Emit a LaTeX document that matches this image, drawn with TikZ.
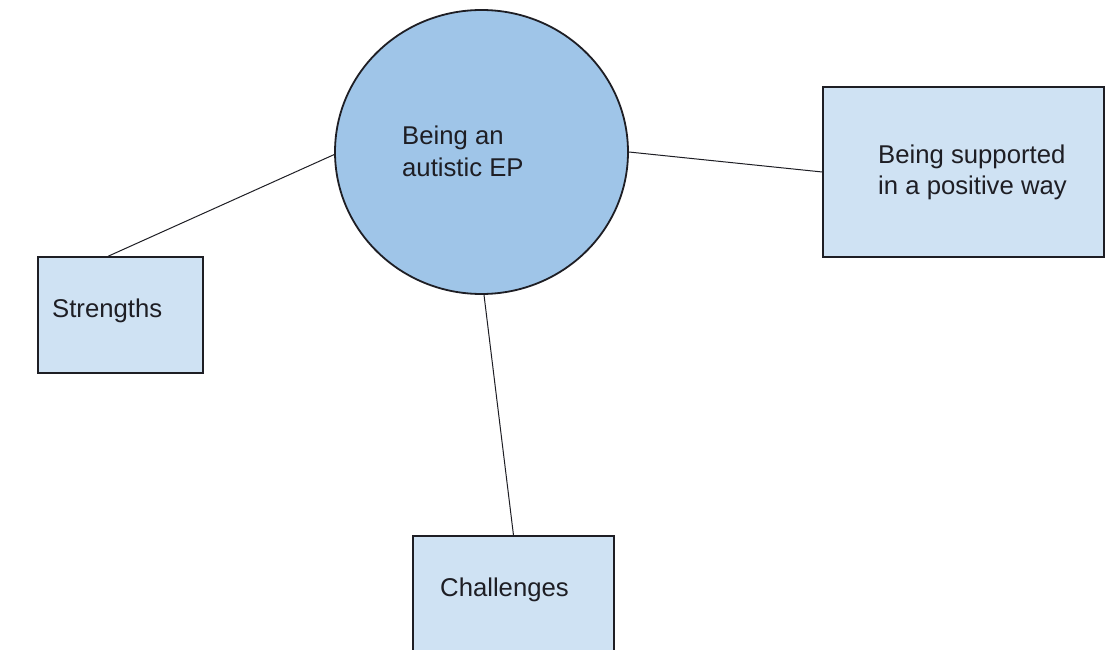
\documentclass[tikz,border=0pt]{standalone}
\usepackage{fontspec}
\setmainfont{Liberation Sans}
\usetikzlibrary{shapes.geometric,calc}
\definecolor{hubfill}{HTML}{9FC5E8}
\definecolor{boxfill}{HTML}{CFE2F3}
\definecolor{ink}{HTML}{1E1E24}
\begin{document}
\begin{tikzpicture}[x=1pt,y=-1pt,
  hub/.style={ellipse,draw=ink,line width=1.8pt,fill=hubfill,inner sep=0pt,
    minimum width=293pt,minimum height=284pt},
  topicbox/.style={rectangle,draw=ink,line width=1.4pt,fill=boxfill,inner sep=0pt},
  txt/.style={anchor=base west,inner sep=0pt,text=ink,font=\fontsize{25.7}{30}\selectfont},
  link/.style={draw=ink,line width=1pt}]
\useasboundingbox[fill=white] (0,0) rectangle (1106,650);
% central topic
\node[hub] (circ) at (481.5,152) {};
% surrounding themes
\node[topicbox,minimum width=165pt,minimum height=116pt] (str) at (120.5,315) {};
\node[topicbox,minimum width=281pt,minimum height=170pt] (sup) at (963.5,172) {};
\node[topicbox,minimum width=201pt,minimum height=130pt] (chal) at (513.5,601) {};
% connectors
\draw[link] (circ.181) -- ($(str.north)+(-12.5,0)$);
\draw[link] (circ.0) -- (sup.west);
\draw[link] (circ.-89) -- (chal.north);
% labels
\node[txt] (t1) at (402,145) {Being an};
\node[txt] (t2) at (402,176) {autistic EP};
\node[txt] (t3) at (878,164) {Being supported};
\node[txt] (t4) at (878,194) {in a positive way};
\node[txt] (t5) at (52,317) {Strengths};
\node[txt] (t6) at (440,596) {Challenges};
\end{tikzpicture}
\end{document}
